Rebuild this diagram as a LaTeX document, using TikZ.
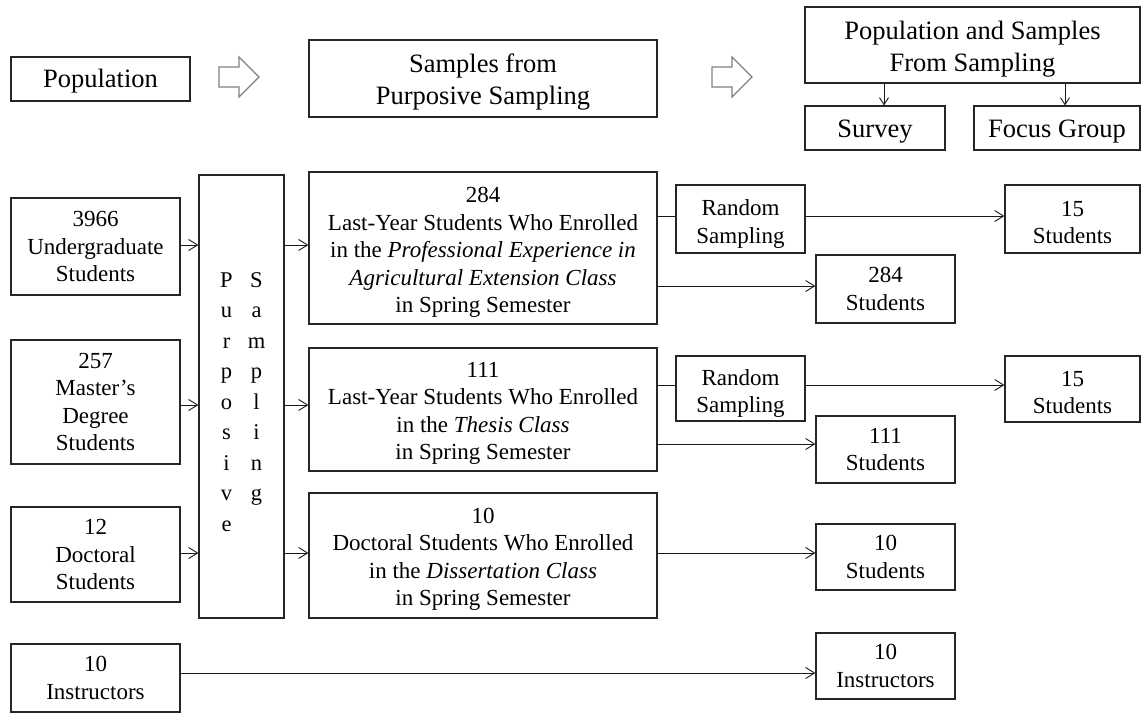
\documentclass[tikz,border=0pt]{standalone}
\usepackage{fontspec}
\setmainfont{Liberation Serif}
\usetikzlibrary{arrows.meta}
% taller first-line strut, which sets a text block a little lower in its box
\newcommand{\dropto}[1]{\rule{0pt}{#1}}
\begin{document}
\begin{tikzpicture}[x=1pt,y=-1pt,
  box/.style={draw=black!85,line width=1.1pt,rectangle,inner sep=0pt,align=center,
    font=\fontsize{23}{27.5}\selectfont},
  headbox/.style={box,font=\fontsize{26.5}{32}\selectfont},
  link/.style={draw=black!90,line width=0.9pt},
  arr/.style={link,-{Straight Barb[length=9pt,width=11pt,line width=0.9pt]}},
  smallarr/.style={link,-{Straight Barb[length=7pt,width=9pt,line width=0.9pt]}},
  blockarrow/.style={draw=black!50,line width=1.1pt,fill=white},
  letter/.style={anchor=base,inner sep=0pt,font=\fontsize{22.5}{27}\selectfont}]
\useasboundingbox (0,0) rectangle (1141,713);

% header row
\node[headbox,minimum width=179pt,minimum height=44pt] (pop) at (100.5,79) {\dropto{22pt}Population};
\node[headbox,minimum width=348pt,minimum height=77pt] (samp) at (483,78.5) {\dropto{26pt}Samples from\\Purposive Sampling};
\node[headbox,minimum width=335pt,minimum height=76pt] (psfs) at (972.5,45) {\dropto{26pt}Population and Samples\\From Sampling};
\node[headbox,minimum width=140pt,minimum height=44pt] (survey) at (875,128) {\dropto{25pt}Survey};
\node[headbox,minimum width=166pt,minimum height=44pt] (focus) at (1057,128) {\dropto{25pt}Focus Group};

% outlined block arrows between header boxes
\foreach \dx in {0,493}{
  \draw[blockarrow] (219+\dx,67) -- (239+\dx,67) -- (239+\dx,57) -- (259+\dx,77)
    -- (239+\dx,97) -- (239+\dx,87) -- (219+\dx,87) -- cycle;
}
\draw[smallarr] (psfs.south -| 884,0) -- (survey.north -| 884,0);
\draw[smallarr] (psfs.south -| 1065,0) -- (focus.north -| 1065,0);

% population groups
\node[box,minimum width=169pt,minimum height=97pt] (ug) at (95.5,246.5) {3966\\Undergraduate\\Students};
\node[box,minimum width=169pt,minimum height=124pt] (ms) at (95.5,402) {257\\Master's\\Degree\\Students};
\node[box,minimum width=169pt,minimum height=95pt] (dr) at (95.5,554.5) {12\\Doctoral\\Students};
\node[box,minimum width=169pt,minimum height=68pt] (insL) at (95.5,678) {10\\Instructors};

% purposive sampling column
\node[box,minimum width=85pt,minimum height=443pt] (purp) at (241.5,396.5) {};
\foreach \ch [count=\i from 0] in {P,u,r,p,o,s,i,v,e}
  \node[letter] (pl\i) at (226.5,287+30.5*\i) {\ch};
\foreach \ch [count=\i from 0] in {S,a,m,p,l,i,n,g}
  \node[letter] (sl\i) at (256.5,287+30.5*\i) {\ch};

% purposive samples
\node[box,minimum width=348pt,minimum height=152pt] (b284) at (483,248)
  {\dropto{24pt}284\\Last-Year Students Who Enrolled\\in the \textit{Professional Experience in}\\\textit{Agricultural Extension Class}\\in Spring Semester};
\node[box,minimum width=348pt,minimum height=123pt] (b111) at (483,409.5)
  {\dropto{23pt}111\\Last-Year Students Who Enrolled\\in the \textit{Thesis Class}\\in Spring Semester};
\node[box,minimum width=348pt,minimum height=125pt] (b10) at (483,555.5)
  {\dropto{23pt}10\\Doctoral Students Who Enrolled\\in the \textit{Dissertation Class}\\in Spring Semester};

% final samples
\node[box,minimum width=129pt,minimum height=68pt] (rs1) at (740.5,219) {\dropto{25.5pt}Random\\Sampling};
\node[box,minimum width=135pt,minimum height=68pt] (s15a) at (1072.5,219) {\dropto{22pt}15\\Students};
\node[box,minimum width=139pt,minimum height=68pt] (s284) at (885.5,289) {284\\Students};
\node[box,minimum width=129pt,minimum height=65pt] (rs2) at (740.5,388.5) {\dropto{25.5pt}Random\\Sampling};
\node[box,minimum width=135pt,minimum height=66pt] (s15b) at (1072.5,389) {\dropto{22pt}15\\Students};
\node[box,minimum width=139pt,minimum height=67pt] (s111) at (885.5,449.5) {111\\Students};
\node[box,minimum width=139pt,minimum height=66pt] (s10) at (885.5,557) {10\\Students};
\node[box,minimum width=139pt,minimum height=66pt] (insR) at (885.5,666) {10\\Instructors};

% connectors: population to purposive sampling to samples
\draw[arr] (ug.east |- 0,245) -- (purp.west |- 0,245);
\draw[arr] (ms.east |- 0,405) -- (purp.west |- 0,405);
\draw[arr] (dr.east |- 0,553) -- (purp.west |- 0,553);
\draw[arr] (purp.east |- 0,245) -- (b284.west |- 0,245);
\draw[arr] (purp.east |- 0,405) -- (b111.west |- 0,405);
\draw[arr] (purp.east |- 0,553) -- (b10.west |- 0,553);

% connectors: samples to final groups
\draw[link] (b284.east |- 0,216) -- (rs1.west |- 0,216);
\draw[arr] (rs1.east |- 0,216) -- (s15a.west |- 0,216);
\draw[arr] (b284.east |- 0,286) -- (s284.west |- 0,286);
\draw[link] (b111.east |- 0,385) -- (rs2.west |- 0,385);
\draw[arr] (rs2.east |- 0,385) -- (s15b.west |- 0,385);
\draw[arr] (b111.east |- 0,444) -- (s111.west |- 0,444);
\draw[arr] (b10.east |- 0,553) -- (s10.west |- 0,553);
\draw[arr] (insL.east |- 0,673) -- (insR.west |- 0,673);
\end{tikzpicture}
\end{document}
